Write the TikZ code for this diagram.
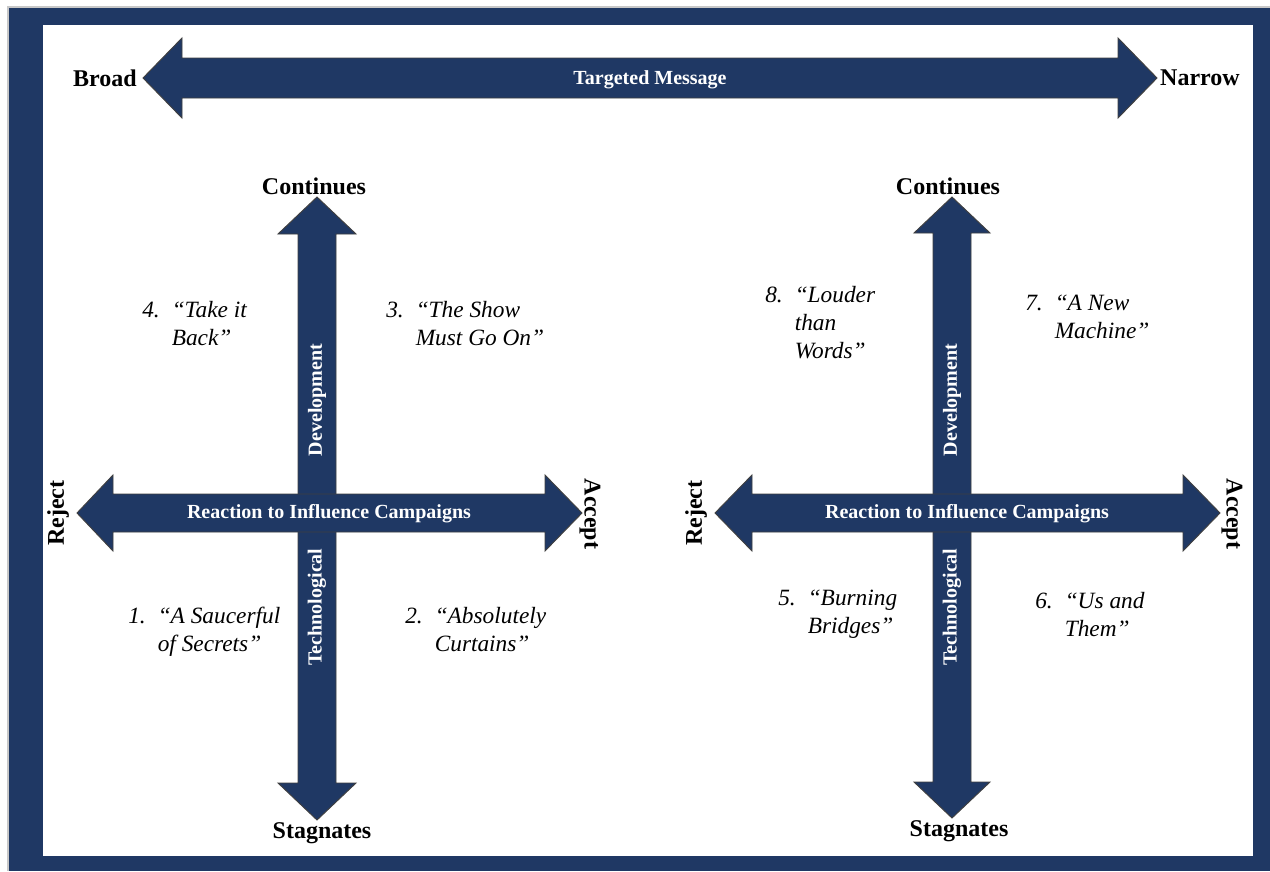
\documentclass[tikz,border=0pt]{standalone}
\usepackage{fontspec}
\setmainfont{Liberation Serif}
\definecolor{navy}{RGB}{31,56,100}
\definecolor{frameedge}{RGB}{200,200,200}
\begin{document}
\begin{tikzpicture}[x=0.75pt,y=-0.75pt,
  blockarrow/.style={fill=navy,draw=black!75,line width=0.7pt,line join=miter},
  axislabel/.style={font=\fontsize{18}{20}\selectfont\bfseries,inner sep=0pt},
  innerlabel/.style={font=\fontsize{15}{17}\selectfont\bfseries,text=white,inner sep=0pt},
  songlabel/.style={font=\fontsize{17.5}{21}\selectfont\itshape,inner sep=0pt,anchor=base west}]
\useasboundingbox (0,0) rectangle (1270,871);
% frame
\fill[white] (0,0) rectangle (1270,871);
\fill[navy] (9,8) rectangle (1270,871);
\draw[frameedge,line width=1.5pt] (8,871) -- (8,7) -- (1270,7);
\fill[white] (43,25) rectangle (1253,856);
% top arrow
\draw[blockarrow] (143,78) -- (182,38) -- (182,58) -- (1118,58) -- (1118,38) -- (1157,78)
  -- (1118,118) -- (1118,98) -- (182,98) -- (182,118) -- cycle;
\node[innerlabel] (tm) at (650,80) {Targeted Message};
\node[axislabel] (broad) at (105,78) {Broad};
\node[axislabel] (narrow) at (1200,78) {Narrow};
% left cross
\draw[blockarrow] (317,197) -- (356,234) -- (336,234) -- (336,783) -- (356,783) -- (317,820)
  -- (278,783) -- (298,783) -- (298,234) -- (278,234) -- cycle;
\node[innerlabel,rotate=90] (devL) at (317,400) {Development};
\node[innerlabel,rotate=90] (techL) at (317,607) {Technological};
\draw[blockarrow] (77,513) -- (113,475) -- (113,494) -- (545,494) -- (545,475) -- (582,513)
  -- (545,551) -- (545,532) -- (113,532) -- (113,551) -- cycle;
\node[innerlabel] (reactL) at (329,514) {Reaction to Influence Campaigns};
\node[axislabel] (contL) at (314,186) {Continues};
\node[axislabel] (stagL) at (322,833) {Stagnates};
\node[axislabel,rotate=90] (rejL) at (58,513) {Reject};
\node[axislabel,rotate=-90] (accL) at (590,514) {Accept};
% right cross
\draw[blockarrow] (952,197) -- (990,233) -- (971,233) -- (971,782) -- (990,782) -- (952,818)
  -- (914,782) -- (933,782) -- (933,233) -- (914,233) -- cycle;
\node[innerlabel,rotate=90] (devR) at (952,400) {Development};
\node[innerlabel,rotate=90] (techR) at (952,607) {Technological};
\draw[blockarrow] (715,513) -- (752,475) -- (752,494) -- (1183,494) -- (1183,475) -- (1220,513)
  -- (1183,551) -- (1183,532) -- (752,532) -- (752,551) -- cycle;
\node[innerlabel] (reactR) at (967,514) {Reaction to Influence Campaigns};
\node[axislabel] (contR) at (948,186) {Continues};
\node[axislabel] (stagR) at (959,831) {Stagnates};
\node[axislabel,rotate=90] (rejR) at (696,513) {Reject};
\node[axislabel,rotate=-90] (accR) at (1232,514) {Accept};
% song labels
\node[songlabel] (s4) at (142,317) {\begin{tabular}[t]{@{}l@{\hspace{9pt}}l@{}}4. & “Take it\\ & Back”\end{tabular}};
\node[songlabel] (s3) at (386,317) {\begin{tabular}[t]{@{}l@{\hspace{9pt}}l@{}}3. & “The Show\\ & Must Go On”\end{tabular}};
\node[songlabel] (s1) at (128,623) {\begin{tabular}[t]{@{}l@{\hspace{9pt}}l@{}}1. & “A Saucerful\\ & of Secrets”\end{tabular}};
\node[songlabel] (s2) at (405,623) {\begin{tabular}[t]{@{}l@{\hspace{9pt}}l@{}}2. & “Absolutely\\ & Curtains”\end{tabular}};
\node[songlabel] (s8) at (765,302) {\begin{tabular}[t]{@{}l@{\hspace{9pt}}l@{}}8. & “Louder\\ & than\\ & Words”\end{tabular}};
\node[songlabel] (s7) at (1025,310) {\begin{tabular}[t]{@{}l@{\hspace{9pt}}l@{}}7. & “A New\\ & Machine”\end{tabular}};
\node[songlabel] (s5) at (778,605) {\begin{tabular}[t]{@{}l@{\hspace{9pt}}l@{}}5. & “Burning\\ & Bridges”\end{tabular}};
\node[songlabel] (s6) at (1035,608) {\begin{tabular}[t]{@{}l@{\hspace{9pt}}l@{}}6. & “Us and\\ & Them”\end{tabular}};
\end{tikzpicture}
\end{document}
